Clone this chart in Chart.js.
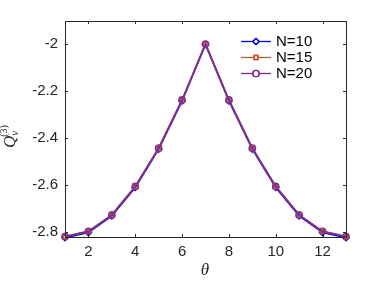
<!DOCTYPE html>
<html>
<head>
<meta charset="utf-8">
<script src="https://cdn.jsdelivr.net/npm/chart.js@4"></script>
<style>
  html, body { margin: 0; padding: 0; background: #fff; }
  #wrap { width: 382px; height: 281px; position: relative; }
</style>
</head>
<body>
<div id="wrap"><canvas id="c" width="382" height="281"></canvas></div>
<script>
// --- data ---
const theta = [1, 2, 3, 4, 5, 6, 7, 8, 9, 10, 11, 12, 13];
const q10 = [-2.824, -2.802, -2.731, -2.610, -2.447, -2.242, -2.002, -2.242, -2.447, -2.610, -2.731, -2.802, -2.824];
const q15 = [-2.818, -2.797, -2.727, -2.606, -2.443, -2.238, -2.000, -2.238, -2.443, -2.606, -2.727, -2.797, -2.818];
const q20 = [-2.819, -2.797, -2.727, -2.606, -2.443, -2.238, -2.000, -2.238, -2.443, -2.606, -2.727, -2.797, -2.819];
const xTicks = [2, 4, 6, 8, 10, 12];
const yTicks = [-2.8, -2.6, -2.4, -2.2, -2];
const seriesNames = ["N=10", "N=15", "N=20"];

const BLUE = "#0000ff", BROWN = "#c05a2c", PURPLE = "#7e2f8e";
const TICK_FONT = "15px 'Liberation Sans', Arial, sans-serif";

function pts(ys){ return theta.map((x, i) => ({ x, y: ys[i] })); }

// frame, inward ticks, axis labels, legend
const decor = {
  id: "decor",
  afterDatasetsDraw(chart){
    const { ctx, chartArea: a, scales: { x, y } } = chart;
    ctx.save();
    ctx.strokeStyle = "#262626";
    ctx.lineWidth = 1;
    ctx.strokeRect(a.left + 0.5, a.top + 0.5, a.right - a.left, a.bottom - a.top);
    ctx.beginPath();
    xTicks.forEach(v => {
      const px = Math.round(x.getPixelForValue(v)) + 0.5;
      ctx.moveTo(px, a.bottom); ctx.lineTo(px, a.bottom - 3);
      ctx.moveTo(px, a.top); ctx.lineTo(px, a.top + 3);
    });
    yTicks.forEach(v => {
      const py = Math.round(y.getPixelForValue(v)) + 0.5;
      ctx.moveTo(a.left, py); ctx.lineTo(a.left + 3, py);
      ctx.moveTo(a.right, py); ctx.lineTo(a.right - 3, py);
    });
    ctx.stroke();

    // x title
    ctx.fillStyle = "#262626";
    ctx.font = "italic 17px 'Liberation Serif', 'DejaVu Serif', serif";
    ctx.textAlign = "center";
    ctx.textBaseline = "alphabetic";
    ctx.fillText("θ", 205, 275);

    // y title Q_v^(3)
    ctx.save();
    ctx.translate(15, 148);
    ctx.rotate(-Math.PI / 2);
    ctx.textAlign = "left";
    ctx.font = "italic 17px 'Liberation Serif', serif";
    ctx.fillText("Q", 0, 0);
    const qw = ctx.measureText("Q").width;
    ctx.font = "italic 11px 'Liberation Serif', serif";
    ctx.fillText("v", qw, 3);
    ctx.font = "10px 'Liberation Serif', serif";
    ctx.fillText("(3)", qw - 1, -8);
    ctx.restore();

    // legend
    const rows = [41, 57, 73];
    const cols = [BLUE, BROWN, PURPLE];
    const marks = ["rectRot", "rect", "circle"];
    chart.data.datasets.forEach((ds, i) => {
      const yy = rows[i];
      ctx.strokeStyle = cols[i];
      ctx.lineWidth = 1.3;
      ctx.beginPath(); ctx.moveTo(241, yy + 0.5); ctx.lineTo(271, yy + 0.5); ctx.stroke();
      ctx.fillStyle = "#fff";
      Chart.helpers.drawPoint(ctx, { pointStyle: marks[i], radius: i === 1 ? 2.8 : 3.2, borderWidth: 1.2 }, 256, yy + 0.5);
      ctx.stroke();
      ctx.fillStyle = "#000";
      ctx.font = TICK_FONT;
      ctx.textAlign = "left";
      ctx.textBaseline = "middle";
      ctx.fillText(seriesNames[i], 276, yy + 1);
    });
    ctx.restore();
  }
};

function ds(label, ys, color, style, r, order){
  return {
    label, data: pts(ys), clip: false, order,
    borderColor: color, backgroundColor: "rgba(0,0,0,0)",
    borderWidth: 1.7, pointStyle: style, pointRadius: r,
    pointBorderWidth: 1.3, pointBorderColor: color,
    pointBackgroundColor: "rgba(0,0,0,0)", tension: 0
  };
}

new Chart(document.getElementById("c"), {
  type: "line",
  data: {
    datasets: [
      ds(seriesNames[0], q10, BLUE, "rectRot", 3.2, 3),
      ds(seriesNames[1], q15, BROWN, "rect", 2.8, 2),
      ds(seriesNames[2], q20, PURPLE, "circle", 3.2, 1)
    ]
  },
  plugins: [decor],
  options: {
    responsive: false,
    animation: false,
    layout: { padding: { top: 21, right: 36, left: 0, bottom: 0 } },
    plugins: { legend: { display: false }, tooltip: { enabled: false } },
    scales: {
      x: {
        type: "linear", min: 1, max: 13,
        afterBuildTicks: s => { s.ticks = xTicks.map(v => ({ value: v })); },
        afterFit: s => { s.height = 44; },
        grid: { display: false, drawTicks: false },
        border: { display: false },
        ticks: { color: "#262626", font: { family: "'Liberation Sans', Arial, sans-serif", size: 15 }, padding: 6, maxRotation: 0 }
      },
      y: {
        type: "linear", min: -2.821, max: -1.902,
        afterBuildTicks: s => { s.ticks = yTicks.map(v => ({ value: v })); },
        afterFit: s => { s.width = 65; },
        grid: { display: false, drawTicks: false },
        border: { display: false },
        ticks: { color: "#262626", font: { family: "'Liberation Sans', Arial, sans-serif", size: 15 }, padding: 7,
                 callback: v => String(Math.round(v * 10) / 10) }
      }
    }
  }
});
</script>
</body>
</html>
